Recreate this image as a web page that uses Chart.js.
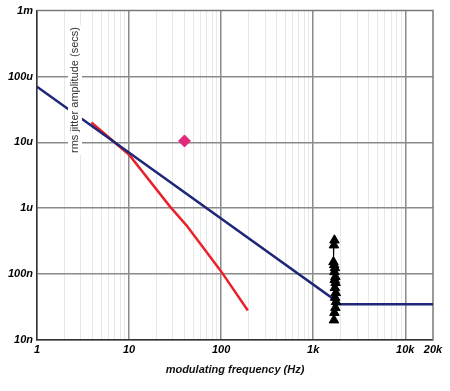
<!DOCTYPE html>
<html><head><meta charset="utf-8">
<script src="https://cdn.jsdelivr.net/npm/chart.js@4/dist/chart.umd.min.js"></script>
<style>html,body{margin:0;padding:0;background:#fff}#wrap{width:450px;height:391px}</style>
</head><body><div id="wrap"><canvas id="c" width="450" height="391"></canvas></div>
<script>
// ---- data ----
const blueFreq = [1, 1700, 1850, 20000];
const blueJitter = [70e-6, 41e-9, 35e-9, 35e-9];
const redFreq = [3.9, 10, 28, 42, 100, 195];
const redJitter = [20e-6, 6.5e-6, 1.05e-6, 550e-9, 110e-9, 28e-9];
const diamondFreq = [40];
const diamondJitter = [10.5e-6];
const triFreq = [1700, 1680, 1660, 1690, 1720, 1700, 1740, 1710, 1750, 1720, 1760, 1730, 1770, 1740, 1700, 1680];
const triJitter = [327e-9, 275e-9, 153e-9, 138e-9, 124e-9, 108e-9, 91e-9, 82e-9, 74e-9, 62e-9, 52e-9, 44e-9, 38e-9, 31e-9, 26e-9, 20e-9];
const xMajorTicks = [1, 10, 100, 1000, 10000, 20000];
const xTickLabels = ['1', '10', '100', '1k', '10k', '20k'];
const yTicks = [1e-8, 1e-7, 1e-6, 1e-5, 1e-4, 1e-3];
const yTickLabels = ['10n', '100n', '1u', '10u', '100u', '1m'];

const pts = (xs, ys) => xs.map((x, i) => ({x: x, y: ys[i]}));

const xTickVals = [];
for (let d = 1; d <= 1000; d *= 10) for (let m = 1; m <= 9; m++) xTickVals.push(m * d);
xTickVals.push(10000, 20000);

const framePlugin = {
  id: 'frame',
  beforeDatasetsDraw(chart) {
    const a = chart.chartArea, ctx = chart.ctx;
    ctx.save();
    ctx.strokeStyle = '#7a7a7a'; ctx.lineWidth = 1.5;
    ctx.beginPath();
    ctx.moveTo(a.left, a.top); ctx.lineTo(a.right, a.top); ctx.lineTo(a.right, a.bottom);
    ctx.stroke();
    ctx.restore();
  },
  afterDatasetsDraw(chart) {
    const ctx = chart.ctx;
    ctx.save();
    ctx.translate(75, 90);
    ctx.rotate(-Math.PI / 2);
    ctx.font = '11px "Liberation Sans", Arial, sans-serif';
    const t = 'rms jitter amplitude (secs)';
    const w = ctx.measureText(t).width;
    ctx.fillStyle = '#fff';
    ctx.fillRect(-w / 2 - 2, -7, w + 4, 14);
    ctx.fillStyle = '#333';
    ctx.textAlign = 'center'; ctx.textBaseline = 'middle';
    ctx.fillText(t, 0, 0);
    ctx.restore();
  }
};

new Chart(document.getElementById('c'), {
  type: 'scatter',
  data: {
    datasets: [
      {data: pts(triFreq, triJitter), showLine: true, borderColor: '#000', borderWidth: 1,
       pointStyle: 'triangle', pointRadius: 5.5, backgroundColor: '#000', pointBorderColor: '#000', order: 1},
      {data: pts(blueFreq, blueJitter), showLine: true, borderColor: '#1f2878', borderWidth: 2.5, pointRadius: 0, order: 2},
      {data: pts(redFreq, redJitter), showLine: true, borderColor: '#e8232b', borderWidth: 2.5, pointRadius: 0, order: 3},
      {data: pts(diamondFreq, diamondJitter), pointStyle: 'rectRot', pointRadius: 6, backgroundColor: '#e0287a', borderColor: '#e0287a', order: 0}
    ]
  },
  options: {
    responsive: false, animation: false, devicePixelRatio: 1,
    layout: {padding: {top: 8, right: 17, left: 0, bottom: 0}},
    plugins: {legend: {display: false}, tooltip: {enabled: false}},
    scales: {
      x: {
        type: 'logarithmic', min: 1, max: 20000,
        afterBuildTicks: s => { s.ticks = xTickVals.map(v => ({value: v})); },
        afterFit: s => { s.height = 51; },
        ticks: {
          autoSkip: false, maxRotation: 0, padding: 3, color: '#000',
          font: {family: '"Liberation Sans", Arial, sans-serif', size: 11, style: 'italic', weight: 'bold'},
          callback: v => { const i = xMajorTicks.indexOf(v); return i >= 0 ? xTickLabels[i] : ''; }
        },
        grid: {
          drawTicks: false,
          color: c => { const v = c.tick && c.tick.value; if (v === 20000) return 'rgba(0,0,0,0)'; return xMajorTicks.indexOf(v) >= 0 ? '#8a8a8a' : '#e8e8e8'; },
          lineWidth: c => { const v = c.tick && c.tick.value; return xMajorTicks.indexOf(v) >= 0 ? 1.5 : 1; }
        },
        border: {color: '#333', width: 1.5},
        title: {display: true, text: 'modulating frequency (Hz)', color: '#111',
          font: {family: '"Liberation Sans", Arial, sans-serif', size: 11, style: 'italic', weight: 'bold'},
          padding: {top: 0, bottom: 14}}
      },
      y: {
        type: 'logarithmic', min: 1e-8, max: 1e-3,
        afterBuildTicks: s => { s.ticks = yTicks.map(v => ({value: v})); },
        afterFit: s => { s.width = 37; },
        ticks: {
          autoSkip: false, padding: 4, color: '#000',
          font: {family: '"Liberation Sans", Arial, sans-serif', size: 11, style: 'italic', weight: 'bold'},
          callback: v => { const i = yTicks.findIndex(t => Math.abs(t - v) / t < 1e-6); return i >= 0 ? yTickLabels[i] : ''; }
        },
        grid: {drawTicks: false, color: c => (c.tick && c.tick.value === 1e-3) ? 'rgba(0,0,0,0)' : '#8a8a8a', lineWidth: 1.5},
        border: {color: '#333', width: 1.5}
      }
    }
  },
  plugins: [framePlugin]
});
</script>
</body></html>
